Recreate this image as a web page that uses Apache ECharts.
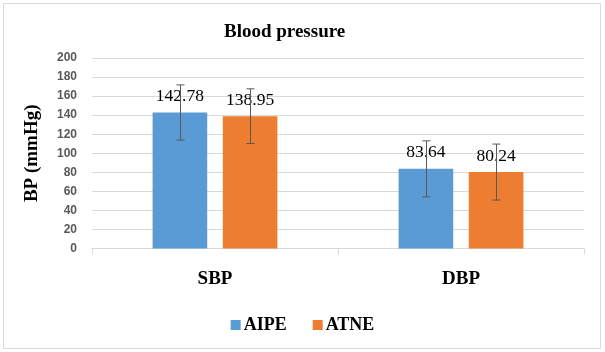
<!DOCTYPE html>
<html>
<head>
<meta charset="utf-8">
<script src="https://cdn.jsdelivr.net/npm/echarts@6/dist/echarts.min.js"></script>
<style>html,body{margin:0;padding:0;background:#fff;}#c{width:605px;height:352px;}</style>
</head>
<body>
<div id="c"></div>
<script>
var categories = ['SBP', 'DBP'];
var aipe = [142.78, 83.64];
var atne = [138.95, 80.24];
var aipeSD = [29.0, 29.4];
var atneSD = [28.7, 29.4];
var yTicks = [0, 20, 40, 60, 80, 100, 120, 140, 160, 180, 200];

var BAR_W = 0.222, GAP = 0.285;
function errItem(sign) {
  return function (params, api) {
    var idx = api.value(0), v = api.value(1), e = api.value(2);
    var band = api.size([1, 0])[0];
    var off = sign * band * (BAR_W + BAR_W * GAP) / 2;
    var top = api.coord([idx, v + e]);
    var bot = api.coord([idx, v - e]);
    var x = Math.round(top[0] + off) + 0.5;
    var cw = 4;
    var st = {stroke: '#595959', lineWidth: 1};
    return {type: 'group', children: [
      {type: 'line', shape: {x1: x, y1: top[1], x2: x, y2: bot[1]}, style: st},
      {type: 'line', shape: {x1: x - cw, y1: top[1], x2: x + cw, y2: top[1]}, style: st},
      {type: 'line', shape: {x1: x - cw, y1: bot[1], x2: x + cw, y2: bot[1]}, style: st}
    ]};
  };
}
var chart = echarts.init(document.getElementById('c'));
var labelStyle = {show: true, position: 'top', distance: 7, fontFamily: 'Liberation Serif', fontSize: 17.5, color: '#000',
  formatter: function (p) { return p.value.toFixed(2); }};
chart.setOption({
  animation: false,
  graphic: [{type: 'rect', shape: {x: 3.5, y: 3.5, width: 597, height: 345}, style: {fill: 'none', stroke: '#d9d9d9', lineWidth: 1}}],
  title: {text: 'Blood pressure', left: 219, top: 18, textStyle: {fontFamily: 'Liberation Serif', fontWeight: 'bold', fontSize: 19, color: '#000'}},
  legend: {data: ['AIPE', 'ATNE'], top: 316, left: 'center', padding: 0, itemWidth: 10, itemHeight: 10, itemGap: 26, icon: 'rect',
    textStyle: {fontFamily: 'Liberation Serif', fontWeight: 'bold', fontSize: 18, color: '#000', padding: [0, 0, 0, -2]}},
  grid: {left: 92, right: 21, top: 58, bottom: 103.5},
  xAxis: {type: 'category', data: categories,
    axisLine: {lineStyle: {color: '#d9d9d9'}},
    axisTick: {show: true, length: 6, lineStyle: {color: '#d9d9d9'}},
    axisLabel: {margin: 21, fontFamily: 'Liberation Serif', fontWeight: 'bold', fontSize: 19, color: '#000'}},
  yAxis: {type: 'value', min: 0, max: 200, interval: 20,
    name: 'BP (mmHg)', nameLocation: 'middle', nameGap: 50,
    nameTextStyle: {fontFamily: 'Liberation Serif', fontWeight: 'bold', fontSize: 19, color: '#000'},
    axisLabel: {margin: 15, fontFamily: 'Liberation Sans', fontWeight: 'bold', fontSize: 12, color: '#595959',
      formatter: function (v) { return yTicks.indexOf(v) >= 0 ? String(v) : ''; }},
    splitLine: {lineStyle: {color: '#d9d9d9'}}, axisLine: {show: false}, axisTick: {show: false}},
  series: [
    {name: 'AIPE', type: 'bar', data: aipe, barWidth: '22.2%', barGap: '28.5%', itemStyle: {color: '#5B9BD5'}, label: labelStyle},
    {name: 'ATNE', type: 'bar', data: atne, barWidth: '22.2%', itemStyle: {color: '#ED7D31'}, label: labelStyle},
    {type: 'custom', renderItem: errItem(-1), data: aipe.map(function (v, i) { return [i, v, aipeSD[i]]; }), z: 10, silent: true},
    {type: 'custom', renderItem: errItem(1), data: atne.map(function (v, i) { return [i, v, atneSD[i]]; }), z: 10, silent: true}
  ]
});
</script>
</body>
</html>
